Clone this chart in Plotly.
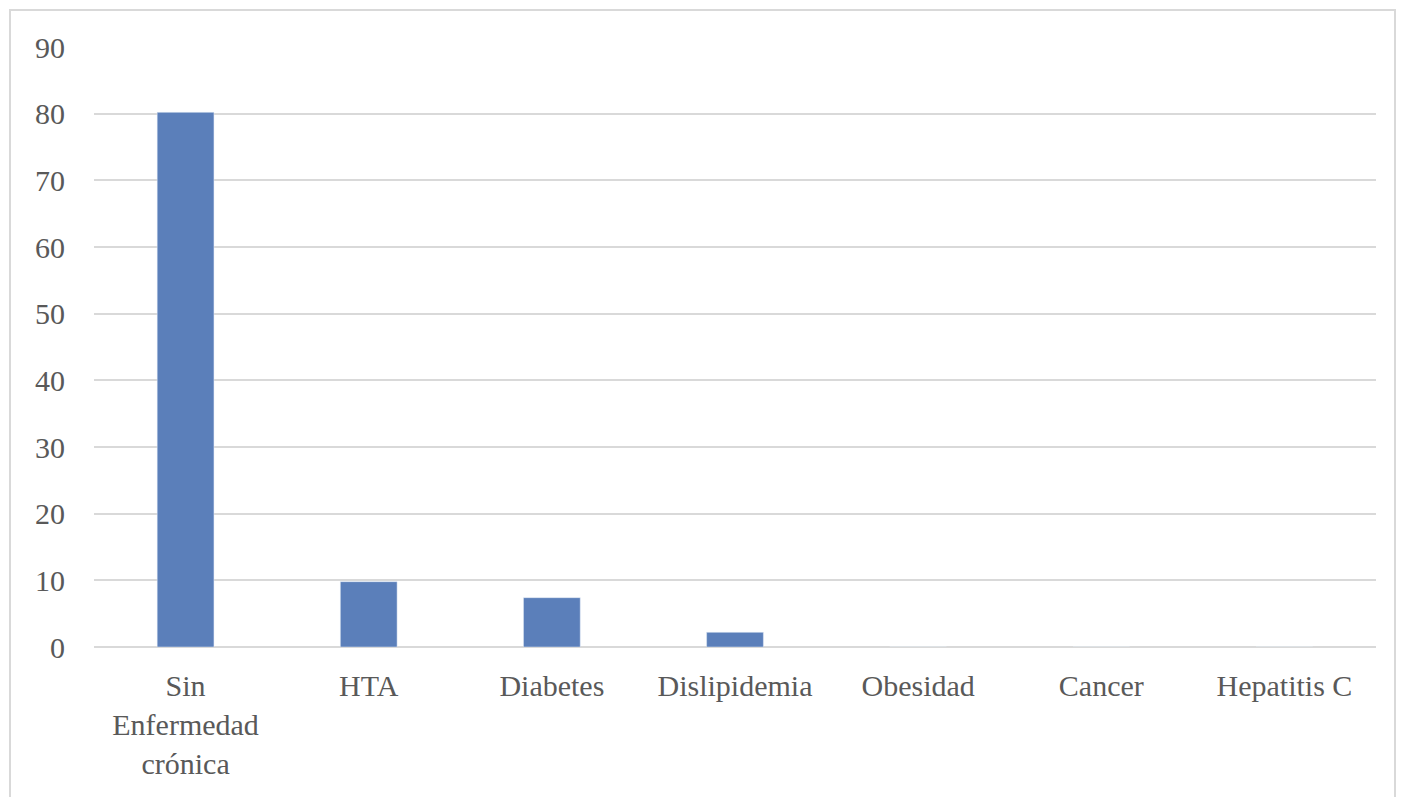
import plotly.graph_objects as go

categories = ["Sin<br>Enfermedad<br>crónica", "HTA", "Diabetes", "Dislipidemia", "Obesidad", "Cancer", "Hepatitis C"]
values = [80.2, 9.8, 7.4, 2.2, 0, 0, 0]
y_ticks = [0, 10, 20, 30, 40, 50, 60, 70, 80, 90]

W, H = 1404, 797
ml, mr, mt, mb = 94, 28, 47, 150
pw, ph = W - ml - mr, H - mt - mb

FONT = "Liberation Serif"
GRAY = "#595959"
FS = 30

fig = go.Figure(go.Bar(x=categories, y=values, marker_color="#5B7FBA", width=0.31))

def px_x(x):
    return (x - ml) / pw

def px_y(y):
    return (H - mb - y) / ph

fig.update_layout(
    width=W, height=H,
    margin=dict(l=ml, r=mr, t=mt, b=mb),
    plot_bgcolor="white", paper_bgcolor="white",
    showlegend=False,
    font=dict(family=FONT, size=FS, color=GRAY),
    xaxis=dict(showgrid=False, showline=False, zeroline=False, ticks="",
               tickfont=dict(family=FONT, size=FS, color=GRAY), ticklabelstandoff=18),
    yaxis=dict(range=[0, 90], tickvals=y_ticks, showgrid=True, gridcolor="#d9d9d9", gridwidth=2,
               zeroline=True, zerolinecolor="#d9d9d9", zerolinewidth=2, showline=False, ticks="",
               tickfont=dict(family=FONT, size=FS, color=GRAY), ticklabelstandoff=28),
    shapes=[dict(type="rect", xref="paper", yref="paper",
                 x0=px_x(10), x1=px_x(1395), y0=px_y(810), y1=px_y(10),
                 line=dict(color="#d9d9d9", width=2), layer="below")],
)

fig.write_html("out.html")
